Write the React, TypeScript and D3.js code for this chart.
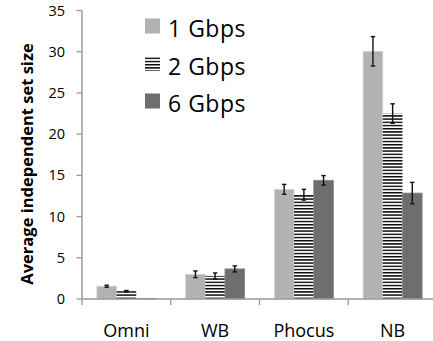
import React from "react";
import * as d3 from "d3";

const categories = ["Omni", "WB", "Phocus", "NB"];
const seriesNames = ["1 Gbps", "2 Gbps", "6 Gbps"];
const values1 = [1.55, 3.0, 13.3, 30.05];
const values2 = [0.95, 2.8, 12.65, 22.5];
const values6 = [0.05, 3.65, 14.4, 12.85];
const errors1 = [0.12, 0.4, 0.6, 1.78];
const errors2 = [0.08, 0.36, 0.65, 1.18];
const errors6 = [0.0, 0.36, 0.57, 1.3];
const yTicks = [0, 5, 10, 15, 20, 25, 30, 35];

const W = 433;
const H = 341;
const FONT = "'Open Sans', 'DejaVu Sans', sans-serif";

export default function App() {
  const x = d3.scaleBand<string>().domain(categories).range([82, 437]).padding(0);
  const groupW = x.bandwidth() * 0.665;
  const xs = d3.scaleBand<string>().domain(seriesNames).range([0, groupW]).padding(0);
  const y = d3.scaleLinear().domain([0, 35]).range([299, 10.5]);

  const seriesVals = [values1, values2, values6];
  const seriesErr = [errors1, errors2, errors6];
  const fills = ["#b2b2b2", "url(#stripes)", "#6e6e6e"];
  const strokes = ["#d4d4d4", "none", "#8a8a8a"];
  const axisColor = "#9a9a9a";

  return (
    <svg width={W} height={H} style={{ position: "absolute", left: 0, top: 0, background: "#fff" }}>
      <defs>
        <pattern id="stripes" patternUnits="userSpaceOnUse" width={8} height={3.2}>
          <rect x={0} y={0} width={8} height={3.2} fill="#ffffff" />
          <rect x={0} y={0} width={8} height={1.4} fill="#000000" />
        </pattern>
      </defs>

      {/* bars */}
      {categories.map((c, ci) => {
        const gx = (x(c) as number) + (x.bandwidth() - groupW) / 2;
        return (
          <g key={c}>
            {seriesNames.map((s, si) => {
              const v = seriesVals[si][ci];
              const bx = gx + (xs(s) as number);
              const bw = xs.bandwidth();
              return (
                <rect
                  key={s}
                  x={bx}
                  y={y(v)}
                  width={bw}
                  height={y(0) - y(v)}
                  fill={fills[si]}
                  stroke={strokes[si]}
                  strokeWidth={0.8}
                />
              );
            })}
            {seriesNames.map((s, si) => {
              const v = seriesVals[si][ci];
              const e = seriesErr[si][ci];
              if (e <= 0) return null;
              const cx = gx + (xs(s) as number) + xs.bandwidth() / 2;
              return (
                <g key={"e" + s} stroke="#111" strokeWidth={1.4}>
                  <line x1={cx} x2={cx} y1={y(v - e)} y2={y(v + e)} />
                  <line x1={cx - 2.2} x2={cx + 2.2} y1={y(v - e)} y2={y(v - e)} />
                  <line x1={cx - 2.2} x2={cx + 2.2} y1={y(v + e)} y2={y(v + e)} />
                </g>
              );
            })}
          </g>
        );
      })}

      {/* y axis */}
      <line x1={82} x2={82} y1={y(35)} y2={y(0)} stroke={axisColor} strokeWidth={1.5} />
      {yTicks.map((t) => (
        <g key={t}>
          <line x1={76.5} x2={82} y1={y(t)} y2={y(t)} stroke={axisColor} strokeWidth={1.3} />
          <text x={65} y={y(t) + 5} textAnchor="end" fontFamily={FONT} fontSize={14.5} fill="#000">
            {t}
          </text>
        </g>
      ))}

      {/* x axis */}
      <line x1={82} x2={437} y1={y(0)} y2={y(0)} stroke={axisColor} strokeWidth={1.5} />
      {categories.map((c) => (
        <line key={"t" + c} x1={x(c) as number} x2={x(c) as number} y1={y(0)} y2={y(0) + 6} stroke={axisColor} strokeWidth={1.3} />
      ))}
      {categories.map((c) => (
        <text
          key={"l" + c}
          x={(x(c) as number) + x.bandwidth() / 2}
          y={336.5}
          textAnchor="middle"
          fontFamily={FONT}
          fontSize={18}
          fill="#000"
        >
          {c}
        </text>
      ))}

      {/* y title */}
      <text
        transform={`translate(32.5,164) rotate(-90)`}
        textAnchor="middle"
        fontFamily={FONT}
        fontWeight="bold"
        fontSize={16.5}
        fill="#000"
      >
        Average independent set size
      </text>

      {/* legend */}
      {seriesNames.map((s, si) => {
        const cy = 26 + si * 37.5;
        return (
          <g key={"lg" + s}>
            <rect x={145} y={cy - 7.5} width={15} height={15} fill={fills[si]} />
            <text x={168} y={cy + 11} fontFamily={FONT} fontSize={23} letterSpacing={0.5} fill="#000">
              {s}
            </text>
          </g>
        );
      })}
    </svg>
  );
}
